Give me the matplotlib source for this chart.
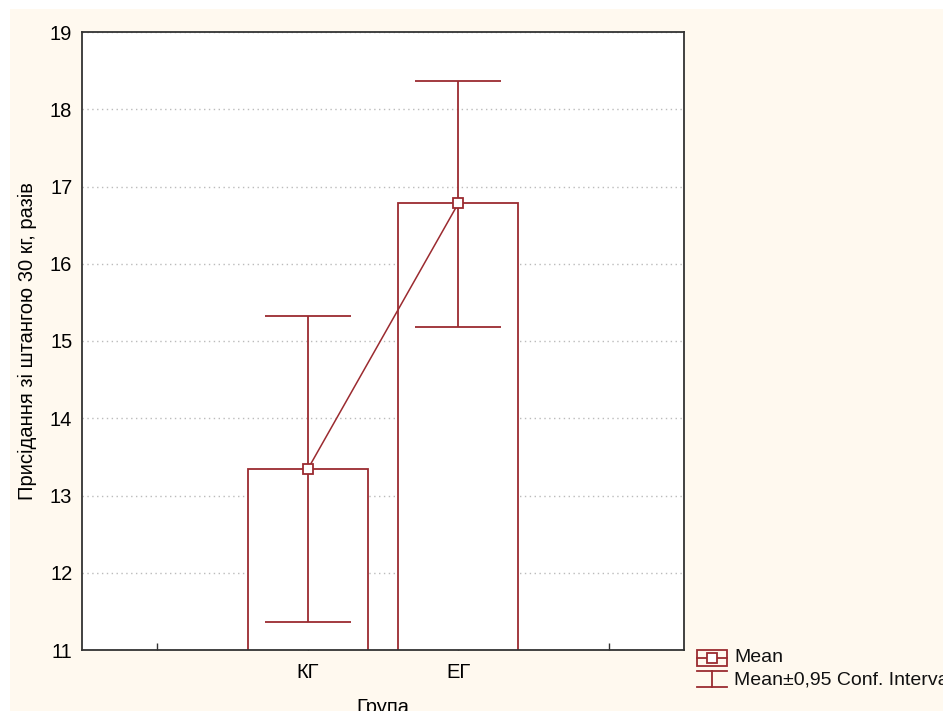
import matplotlib.pyplot as plt
import numpy as np
from matplotlib.patches import Rectangle
from matplotlib.lines import Line2D

groups = ["КГ", "ЕГ"]
means = [13.34, 16.78]
ci_low = [11.36, 15.18]
ci_high = [15.32, 18.37]
y_ticks = [11, 12, 13, 14, 15, 16, 17, 18, 19]

red = '#9B2B30'
cream = '#FFF9EF'

plt.rcParams['font.family'] = ['Liberation Sans', 'DejaVu Sans']

fig = plt.figure(figsize=(9.43, 7.11), dpi=100)
fig.patch.set_facecolor('white')

# cream panel (white strip along top and left like the screenshot)
bg = fig.add_axes([10/943, 0, 1, 1 - 9/711], zorder=-10)
bg.set_facecolor(cream)
bg.set_xticks([])
bg.set_yticks([])
for s in bg.spines.values():
    s.set_visible(False)

ax = fig.add_axes([82/943, 1 - 650/711, (684 - 82)/943, (650 - 32)/711])
ax.set_facecolor('white')

x = np.array([2, 3])
means = np.array(means)
ci_low = np.array(ci_low)
ci_high = np.array(ci_high)

# bars drawn from below the axis floor up to the mean
ax.bar(x, means - 10, bottom=10, width=0.8, facecolor='white',
       edgecolor=red, linewidth=1.3, zorder=2)
ax.errorbar(x, means, yerr=[means - ci_low, ci_high - means], fmt='none',
            ecolor=red, elinewidth=1.3, capsize=31, capthick=1.3, zorder=3)
ax.plot(x, means, color=red, linewidth=1.1, marker='s', markersize=7,
        markerfacecolor='white', markeredgecolor=red, markeredgewidth=1.3,
        zorder=4)

ax.set_xlim(0.5, 4.5)
ax.set_ylim(11, 19)
ax.set_xticks([1, 2, 3, 4])
ax.set_xticklabels(["", groups[0], groups[1], ""])
ax.set_yticks(y_ticks)
ax.yaxis.grid(True, linestyle=(0, (1, 2.5)), color='#BBBBBB', linewidth=1)
ax.set_axisbelow(True)
ax.tick_params(axis='x', direction='in', length=5, width=1, color='#333333',
               labelsize=14.5, pad=9)
ax.tick_params(axis='y', length=0, labelsize=14.5, pad=7)
for s in ax.spines.values():
    s.set_color('#333333')
    s.set_linewidth(1.3)

ax.set_xlabel("Група", fontsize=14.5, labelpad=12)
ax.set_ylabel("Присідання зі штангою 30 кг, разів", fontsize=14.5, labelpad=9)

# legend drawn by hand in pixel space, partly cut at the right edge
lg = fig.add_axes([0, 0, 1, 1], zorder=5)
lg.set_xlim(0, 943)
lg.set_ylim(711, 0)
lg.axis('off')
lg.add_patch(Rectangle((697, 650), 30, 16, fill=False, edgecolor=red, lw=1.3))
lg.add_line(Line2D([697, 727], [658, 658], color=red, lw=1.3))
lg.add_line(Line2D([712], [658], marker='s', markersize=7, markerfacecolor='white',
                   markeredgecolor=red, markeredgewidth=1.3, color=red))
lg.add_line(Line2D([697, 727], [671, 671], color=red, lw=1.3))
lg.add_line(Line2D([712, 712], [671, 687], color=red, lw=1.3))
lg.add_line(Line2D([697, 727], [687, 687], color=red, lw=1.3))
lg.text(734, 658, "Mean", fontsize=14, va='center', ha='left', color='#111111')
lg.text(734, 680, "Mean±0,95 Conf. Interval", fontsize=14, va='center',
        ha='left', color='#111111')

fig.savefig('out.png', dpi=100, facecolor=fig.get_facecolor())
